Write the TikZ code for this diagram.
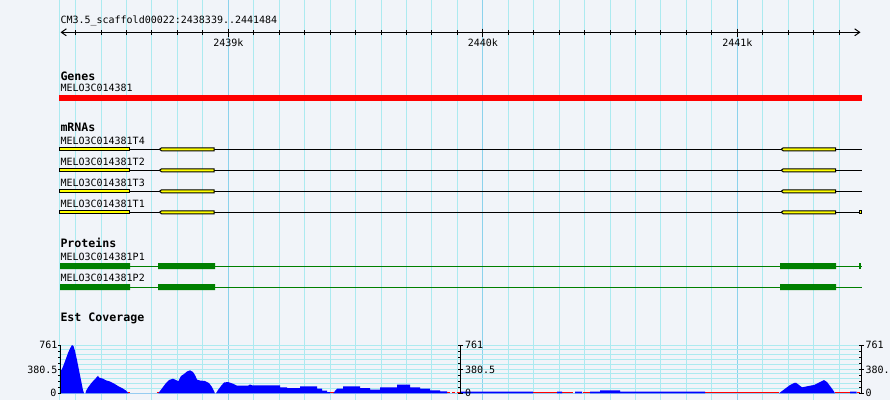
\documentclass[tikz,border=0pt]{standalone}
\usepackage{fontspec}
\setmonofont{DejaVu Sans Mono}
\usepackage{xcolor}
\usetikzlibrary{arrows.meta}
\definecolor{bgcol}{RGB}{241,244,249}
\definecolor{gridlo}{RGB}{172,234,240}
\definecolor{gridhi}{RGB}{140,210,236}
\definecolor{exonyel}{RGB}{255,255,0}
\definecolor{protgrn}{RGB}{0,128,0}
\tikzset{
  lbl/.style={anchor=base west,inner sep=0pt,font=\fontsize{10}{10}\selectfont\ttfamily},
  hdr/.style={anchor=base west,inner sep=0pt,font=\fontsize{11.6}{12}\selectfont\ttfamily\bfseries},
  exon/.style={draw=black,fill=exonyel,line width=1pt},
  barb/.tip={Straight Barb[length=5pt,width=7pt]}
}

\begin{document}
\begin{tikzpicture}[x=1pt,y=-1pt,line width=1pt]
\useasboundingbox(0,0)rectangle(890,400);
\fill[bgcol](0,0)rectangle(890,400);
% grid
\draw[gridlo](59.5,0)--(59.5,400);
\foreach \k in {-6,...,24}
  \draw[gridlo]({228.3+25.45*\k},0)--++(0,400);
\foreach \k in {0,10,20}
  \draw[gridhi]({228.3+25.45*\k},0)--++(0,400);
% ruler
\draw(60,21)node[lbl,anchor=west](title){CM3.5\_scaffold00022:2438339..2441484};
\draw[barb-barb](60.5,32.3)--(860.5,32.3);
\foreach \k in {-6,...,24}
  \draw({228.3+25.45*\k},30)--++(0,5);
\foreach \k/\t in {0/2439k,10/2440k,20/2441k}
  \draw({228.3+25.45*\k},28.5)--++(0,8)
  ({228.3+25.45*\k},46)node[lbl,anchor=base](tick\k){\t};
% genes
\draw(60,80)node[hdr](genes){Genes}
(60,91.7)node[lbl](gene){MELO3C014381};
\fill[red](59,95)rectangle(862,100.5);
% mRNAs
\draw(60,131.7)node[hdr](mrnas){mRNAs};
\foreach \t/\y in {T4/149.3,T2/170.3,T3/191.3,T1/212.3}{
  \draw(60,\y-5.3)node[lbl](mrna\t){MELO3C014381\t};
  \draw(59,\y)--(861.7,\y);
  \filldraw[exon](59.8,\y-1.5)rectangle(129,\y+1.5);
  \filldraw[exon](159.5,\y)--(161.5,\y-1.5)--(214,\y-1.5)--(214,\y+1.5)--(161.5,\y+1.5)--cycle;
  \filldraw[exon](781.2,\y)--(783.2,\y-1.5)--(835.5,\y-1.5)--(835.5,\y+1.5)--(783.2,\y+1.5)--cycle;
}
\filldraw[exon](859.8,212.3-1.5)rectangle(861.8,212.3+1.5);
% proteins
\draw(60,247.3)node[hdr](prots){Proteins};
\foreach \p/\y in {P1/266,P2/287}{
  \draw(60,\y-6)node[lbl](prot\p){MELO3C014381\p};
  \draw[protgrn](60,\y)--(861.7,\y);
  \fill[protgrn](60,\y-3)rectangle(130,\y+3) (158,\y-3)rectangle(215,\y+3) (780,\y-3)rectangle(836,\y+3);
}
\fill[protgrn](859,263)rectangle(861.3,269);
% est coverage
\draw(60,321)node[hdr](est){Est Coverage};
\foreach \i in {0,...,10}
  \draw[gridlo](60,{345+4.83*\i})--(860,{345+4.83*\i});
\draw[red](128,392.8)--(129.5,392.8) (157,392.8)--(158.5,392.8) (330,392.8)--(334,392.8)
  (533,392.8)--(557,392.8) (562,392.8)--(573,392.8) (583,392.8)--(590,392.8)
  (705,392.8)--(779,392.8) (835,392.8)--(850,392.8) (856.7,392.8)--(860,392.8);
\draw[red,dash pattern=on 3pt off 2pt](447,392.8)--(460,392.8);
\fill[blue] plot coordinates {
 (60.7,393.3) (60.7,371) (62,369) (64,364) (66,358.5) (68,353) (70,348.5) (72,345) (73.5,346)
 (75,351) (77,360) (79,370) (81,380) (83,390) (84,393.3)
 (85.5,393.3) (86,391) (88,387.5) (91,383.5) (94,380) (96,378) (98,375.7) (99,377.5) (103,378.7)
 (106,380.3) (110,381.5) (114,383.5) (118,386) (122,388) (126,390.5) (128.5,393.3)
 (158.3,393.3) (160,391) (163,387) (166,383) (169,380) (173,378.7) (176,380) (178.3,381.3) (181,376)
 (184,374) (187,371.5) (190,370.3) (193,372) (195,375) (197,379.5) (200,380.5) (205,381) (209,383)
 (212,387) (215,393.3)
 (216,393.3) (218,390) (221,386) (224,382.5) (228,382) (233,383.7) (237,385.7) (248,385.7) (250,384.5)
 (252,385.3) (280,385.3) (280,387.3) (287,387.3) (287,388) (300,388) (300,386.3) (317,386.3)
 (317,388.7) (322,388.7) (322,390.7) (327,390.7) (327,392) (330,392) (330,393.3)
 (333.3,393.3) (335,391) (337,388.7) (343,388.7) (343,386.3) (360,386.3) (360,388) (370,388)
 (370,389.7) (380,389.7) (380,387.3) (397,387.3) (397,384.7) (410,384.7) (410,387.3) (420,387.3)
 (420,388.7) (430,388.7) (430,390.3) (440,390.3) (440,391.3) (447,391.3) (447,393.3)
 (460,393.3) (460,391.7) (533,391.7) (533,393.3) (557,393.3) (557,391.5) (562,391.5) (562,393.3)
 (575,393.3) (575,391.7) (582,391.7) (582,393.3) (590,393.3) (590,391.7) (600,391.7) (600,390.3)
 (620,390.3) (620,391.7) (705,391.7) (705,393.3)
 (779,393.3) (782,391) (786,388) (790,385) (794,383) (796,382.7) (799,385) (802,387.3) (806,386.5)
 (810,385.7) (814,385) (818,383) (821,381.5) (824,380) (827,382) (830,386) (833,390) (835,393.3)
 (850,393.3) (850,391.7) (856.7,391.7) (856.7,393.3)
} -- cycle;
% y axes
\foreach \ax in {60.7,460.7,861.7}{
  \draw(\ax,345)--(\ax,393.3);
  \foreach \j in {0,...,8}
    \draw(\ax-2.5,{345+6.04*\j})--(\ax,{345+6.04*\j});
}
\foreach \ax in {460.7,861.7}
  \draw(\ax,345)--++(2.5,0) (\ax,369.2)--++(2.5,0) (\ax,393.3)--++(2.5,0);
\draw(58,348.3)node[lbl,anchor=base east](lmax){761}
(58,373.3)node[lbl,anchor=base east](lmid){380.5}
(57,396.7)node[lbl,anchor=base east](lmin){0};
\draw(464.5,348.3)node[lbl](mmax){761}
(464.5,373.3)node[lbl](mmid){380.5}
(464.5,396.7)node[lbl](mmin){0};
\draw(865,348.3)node[lbl](rmax){761}
(865,373.3)node[lbl](rmid){380.5}
(865,396.7)node[lbl](rmin){0};
\end{tikzpicture}
\end{document}
